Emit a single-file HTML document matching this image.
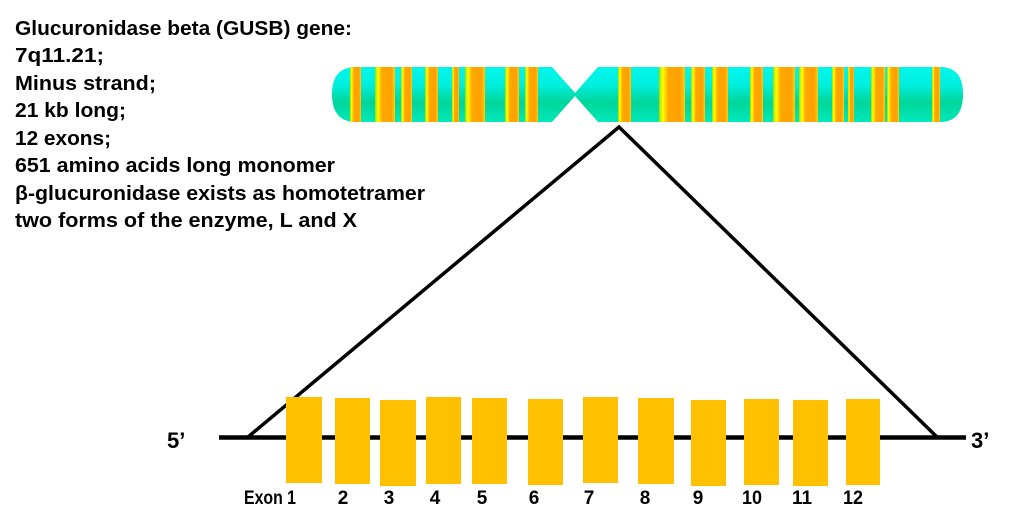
<!DOCTYPE html>
<html><head><meta charset="utf-8"><style>
html,body{margin:0;padding:0;background:#fff;}
svg{display:block;}
text{font-family:"Liberation Sans",sans-serif;font-weight:bold;fill:#000;}
</style></head><body>
<svg width="1024" height="524" viewBox="0 0 1024 524" xmlns="http://www.w3.org/2000/svg">
<defs>
<linearGradient id="cg" x1="0" y1="0" x2="0" y2="1">
<stop offset="0" stop-color="#00f8f0"/>
<stop offset="0.35" stop-color="#00f0e0"/>
<stop offset="0.6" stop-color="#00d69a"/>
<stop offset="1" stop-color="#00f0c8"/>
</linearGradient>
<linearGradient id="bg" x1="0" y1="0" x2="1" y2="0">
<stop offset="0" stop-color="#9be000"/>
<stop offset="0.15" stop-color="#ffff00"/>
<stop offset="0.35" stop-color="#ffa800"/>
<stop offset="0.8" stop-color="#ffa000"/>
<stop offset="1" stop-color="#ffd000"/>
</linearGradient>
<clipPath id="chr">
<path d="M356,67 L552,67 L575,93 L598,67 L940,67 Q963,67 963,94 Q963,122 940,122 L598,122 L575,96 L552,122 L356,122 Q332,122 332,94 Q332,67 356,67 Z"/>
</clipPath>
</defs>

<g font-size="20.5">
<text x="15" y="35" textLength="337" lengthAdjust="spacingAndGlyphs">Glucuronidase beta (GUSB) gene:</text>
<text x="15" y="62" textLength="89" lengthAdjust="spacingAndGlyphs">7q11.21;</text>
<text x="15" y="90" textLength="141" lengthAdjust="spacingAndGlyphs">Minus strand;</text>
<text x="15" y="117" textLength="111" lengthAdjust="spacingAndGlyphs">21 kb long;</text>
<text x="15" y="145" textLength="96" lengthAdjust="spacingAndGlyphs">12 exons;</text>
<text x="15" y="172" textLength="320" lengthAdjust="spacingAndGlyphs">651 amino acids long monomer</text>
<text x="15" y="200" textLength="410" lengthAdjust="spacingAndGlyphs">β-glucuronidase exists as homotetramer</text>
<text x="15" y="227" textLength="342" lengthAdjust="spacingAndGlyphs">two forms of the enzyme, L and X</text>
</g>

<g clip-path="url(#chr)">
<rect x="330" y="60" width="640" height="70" fill="url(#cg)"/>
<g fill="url(#bg)">
<rect x="350" y="60" width="11" height="70"/>
<rect x="375" y="60" width="20" height="70"/>
<rect x="401" y="60" width="11" height="70"/>
<rect x="425" y="60" width="13" height="70"/>
<rect x="452" y="60" width="7" height="70"/>
<rect x="465" y="60" width="20" height="70"/>
<rect x="505" y="60" width="14" height="70"/>
<rect x="525" y="60" width="13" height="70"/>
<rect x="618" y="60" width="13" height="70"/>
<rect x="659" y="60" width="26" height="70"/>
<rect x="691" y="60" width="14" height="70"/>
<rect x="712" y="60" width="16" height="70"/>
<rect x="750" y="60" width="13" height="70"/>
<rect x="773" y="60" width="22" height="70"/>
<rect x="799" y="60" width="19" height="70"/>
<rect x="832" y="60" width="12" height="70"/>
<rect x="848" y="60" width="6" height="70"/>
<rect x="871" y="60" width="14" height="70"/>
<rect x="887" y="60" width="12" height="70"/>
<rect x="932" y="60" width="8" height="70"/>
</g>
</g>

<polyline points="248,437 619,127 937,437" fill="none" stroke="#000" stroke-width="3.5"/>
<line x1="219" y1="437.5" x2="966" y2="437.5" stroke="#000" stroke-width="4.5"/>

<g fill="#ffc000">
<rect x="286" y="397" width="36" height="86"/>
<rect x="335" y="398" width="35" height="86"/>
<rect x="380" y="400" width="36" height="86"/>
<rect x="426" y="397" width="35" height="87"/>
<rect x="472" y="398" width="35" height="86"/>
<rect x="528" y="399" width="35" height="86"/>
<rect x="583" y="397" width="35" height="86"/>
<rect x="638" y="398" width="36" height="86"/>
<rect x="691" y="400" width="35" height="86"/>
<rect x="744" y="399" width="35" height="86"/>
<rect x="793" y="400" width="35" height="86"/>
<rect x="846" y="399" width="34" height="86"/>
</g>

<text x="167" y="448" font-size="22">5’</text>
<text x="971" y="448" font-size="22">3’</text>

<g font-size="19" text-anchor="middle">
<text x="270" y="504" textLength="52" lengthAdjust="spacingAndGlyphs">Exon 1</text>
<text x="343" y="504">2</text>
<text x="389" y="504">3</text>
<text x="435" y="504">4</text>
<text x="482" y="504">5</text>
<text x="534" y="504">6</text>
<text x="589" y="504">7</text>
<text x="645" y="504">8</text>
<text x="698" y="504">9</text>
<text x="752" y="504" textLength="20" lengthAdjust="spacingAndGlyphs">10</text>
<text x="802" y="504" textLength="20" lengthAdjust="spacingAndGlyphs">11</text>
<text x="853" y="504" textLength="20" lengthAdjust="spacingAndGlyphs">12</text>
</g>
</svg>
</body></html>
